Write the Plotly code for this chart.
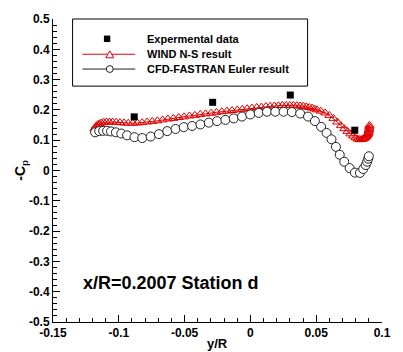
import plotly.graph_objects as go

# ---------------- data ----------------
exp_x = [-0.0883, -0.0287, 0.0303, 0.0793]
exp_y = [0.177, 0.225, 0.249, 0.133]

wind_x = [-0.1185, -0.1178, -0.1170, -0.1160, -0.1148, -0.1133, -0.1115, -0.1095,
          -0.1072, -0.1047, -0.1020, -0.0991, -0.0960, -0.0928, -0.0894, -0.0859,
          -0.0822, -0.0785, -0.0746, -0.0707, -0.0667, -0.0627, -0.0586, -0.0545,
          -0.0504, -0.0463, -0.0422, -0.0381, -0.0340, -0.0299, -0.0258, -0.0218,
          -0.0178, -0.0139, -0.0100, -0.0062, -0.0025, 0.0012, 0.0048, 0.0083,
          0.0117, 0.0150, 0.0182, 0.0213, 0.0243, 0.0272, 0.0300, 0.0327,
          0.0353, 0.0378, 0.0402, 0.0425, 0.0447, 0.0468, 0.0488, 0.0507,
          0.0535, 0.0568, 0.0600, 0.0631, 0.0660, 0.0688, 0.0714, 0.0738,
          0.0760, 0.0780, 0.0798, 0.0814, 0.0828, 0.0840, 0.0851, 0.0861,
          0.0869, 0.0876, 0.0882, 0.0887, 0.0891, 0.0894, 0.0897, 0.0899,
          0.0901, 0.0903, 0.0904, 0.0905]
wind_y = [0.138, 0.143, 0.147, 0.151, 0.154, 0.157, 0.159, 0.160,
          0.160, 0.160, 0.159, 0.158, 0.157, 0.156, 0.156, 0.157,
          0.158, 0.160, 0.162, 0.164, 0.167, 0.170, 0.172, 0.175,
          0.177, 0.180, 0.182, 0.185, 0.187, 0.189, 0.192, 0.194,
          0.196, 0.198, 0.200, 0.202, 0.204, 0.206, 0.208, 0.209,
          0.211, 0.212, 0.213, 0.214, 0.215, 0.215, 0.215, 0.215,
          0.214, 0.213, 0.212, 0.210, 0.208, 0.206, 0.203, 0.200,
          0.196, 0.190, 0.182, 0.172, 0.160, 0.148, 0.138, 0.129,
          0.121, 0.114, 0.108, 0.104, 0.102, 0.102, 0.103, 0.105,
          0.107, 0.110, 0.113, 0.116, 0.119, 0.122, 0.126, 0.130,
          0.134, 0.139, 0.144, 0.149]

cfd_x = [-0.1180, -0.1149, -0.1119, -0.1089, -0.1059, -0.1022, -0.0981, -0.0937,
         -0.0881, -0.0822, -0.0758, -0.0695, -0.0632, -0.0569, -0.0506, -0.0443,
         -0.0380, -0.0316, -0.0253, -0.0190, -0.0127, -0.0064, -0.0001, 0.0063,
         0.0126, 0.0189, 0.0252, 0.0315, 0.0378, 0.0438, 0.0490, 0.0538,
         0.0579, 0.0616, 0.0650, 0.0679, 0.0713, 0.0754, 0.0794, 0.0832,
         0.0857, 0.0876, 0.0887, 0.0895, 0.0900]
cfd_y = [0.126, 0.130, 0.131, 0.131, 0.129, 0.126, 0.122, 0.116,
         0.110, 0.107, 0.112, 0.120, 0.130, 0.137, 0.143, 0.147,
         0.152, 0.158, 0.163, 0.167, 0.172, 0.178, 0.185, 0.190,
         0.194, 0.194, 0.194, 0.193, 0.188, 0.178, 0.163, 0.144,
         0.124, 0.103, 0.078, 0.052, 0.029, 0.008, -0.007, -0.008,
         0.005, 0.018, 0.029, 0.039, 0.047]

x_tickvals = [-0.15, -0.1, -0.05, 0, 0.05, 0.1]
x_ticktext = ["-0.15", "-0.1", "-0.05", "0", "0.05", "0.1"]
y_tickvals = [-0.5, -0.4, -0.3, -0.2, -0.1, 0, 0.1, 0.2, 0.3, 0.4, 0.5]
y_ticktext = ["-0.5", "-0.4", "-0.3", "-0.2", "-0.1", "0", "0.1", "0.2", "0.3", "0.4", "0.5"]

legend_labels = ["Expermental data", "WIND N-S result", "CFD-FASTRAN Euler result"]

# ---------------- style ----------------
W, H = 403, 352
ML, MR, MT, MB = 53, 14, 15, 30
PW, PH = W - ML - MR, H - MT - MB
FONT = "Liberation Sans, Arial, sans-serif"
RED = "rgb(225,0,0)"
BLK = "#222222"


def px(xp):
    return (xp - ML) / PW


def py(yp):
    return (H - MB - yp) / PH


fig = go.Figure()
fig.add_trace(go.Scatter(x=wind_x, y=wind_y, mode="lines+markers",
                         line=dict(color=RED, width=1),
                         marker=dict(symbol="triangle-up-open", size=8,
                                     color=RED, line=dict(width=1, color=RED)),
                         name=legend_labels[1], showlegend=False))
fig.add_trace(go.Scatter(x=cfd_x, y=cfd_y, mode="lines+markers",
                         line=dict(color=BLK, width=1),
                         marker=dict(symbol="circle", size=9, color="white",
                                     line=dict(width=1, color=BLK)),
                         name=legend_labels[2], showlegend=False))
fig.add_trace(go.Scatter(x=exp_x, y=exp_y, mode="markers",
                         marker=dict(symbol="square", size=7, color="black"),
                         name=legend_labels[0], showlegend=False))

axis_common = dict(showline=True, linecolor="black", linewidth=1, mirror=False,
                   showgrid=False, zeroline=False, ticks="inside", ticklen=7,
                   tickwidth=1, tickcolor="black",
                   tickfont=dict(family=FONT, size=12, color="black", weight="bold"))

fig.update_xaxes(range=[-0.15, 0.1], tickvals=x_tickvals, ticktext=x_ticktext,
                 minor=dict(dtick=0.01, tick0=0, ticks="inside", ticklen=4,
                            tickcolor="black", tickwidth=1),
                 **axis_common)
fig.update_yaxes(range=[-0.5, 0.5], tickvals=y_tickvals, ticktext=y_ticktext,
                 minor=dict(dtick=0.02, tick0=0, ticks="inside", ticklen=4,
                            tickcolor="black", tickwidth=1),
                 **axis_common)

shapes = []
# legend box
shapes.append(dict(type="rect", xref="paper", yref="paper",
                   x0=px(73), x1=px(313), y0=py(83), y1=py(15),
                   line=dict(color="black", width=1), fillcolor="white", layer="below"))
# legend row 1 square
shapes.append(dict(type="rect", xref="paper", yref="paper",
                   x0=px(105), x1=px(111.5), y0=py(38.3), y1=py(31.8),
                   line=dict(width=0), fillcolor="black"))
# legend row 2 line + triangle
shapes.append(dict(type="line", xref="paper", yref="paper",
                   x0=px(83), x1=px(137), y0=py(50.7), y1=py(50.7),
                   line=dict(color=RED, width=1)))
tri = "M %f %f L %f %f L %f %f Z" % (px(107), py(54.3), px(115), py(54.3), px(111), py(47.3))
shapes.append(dict(type="path", xref="paper", yref="paper", path=tri,
                   line=dict(color=RED, width=1), fillcolor="white"))
# legend row 3 line + circle
shapes.append(dict(type="line", xref="paper", yref="paper",
                   x0=px(83), x1=px(137), y0=py(65.7), y1=py(65.7),
                   line=dict(color=BLK, width=1)))
shapes.append(dict(type="circle", xref="paper", yref="paper",
                   x0=px(107.5), x1=px(114.5), y0=py(69.2), y1=py(62.2),
                   line=dict(color=BLK, width=1), fillcolor="white"))

annotations = []
for lbl, yy in zip(legend_labels, [35, 50.4, 65.8]):
    annotations.append(dict(text=lbl, xref="paper", yref="paper", x=px(147), y=py(yy),
                            xanchor="left", yanchor="middle", showarrow=False,
                            font=dict(family=FONT, size=11, color="black", weight="bold")))
annotations.append(dict(text="x/R=0.2007 Station d", xref="paper", yref="paper",
                        x=px(82), y=py(282), xanchor="left", yanchor="middle",
                        showarrow=False,
                        font=dict(family=FONT, size=18, color="black", weight="bold")))
annotations.append(dict(text="y/R", xref="paper", yref="paper",
                        x=px(221), y=py(344), xanchor="center", yanchor="middle",
                        showarrow=False,
                        font=dict(family=FONT, size=13, color="black", weight="bold")))
annotations.append(dict(text="-C<sub>p</sub>", xref="paper", yref="paper",
                        x=px(20), y=py(168), xanchor="center", yanchor="middle",
                        textangle=-90, showarrow=False,
                        font=dict(family=FONT, size=14, color="black", weight="bold")))

fig.update_layout(width=W, height=H, margin=dict(l=ML, r=MR, t=MT, b=MB),
                  plot_bgcolor="white", paper_bgcolor="white",
                  shapes=shapes, annotations=annotations, showlegend=False)

fig.write_html("out.html")
